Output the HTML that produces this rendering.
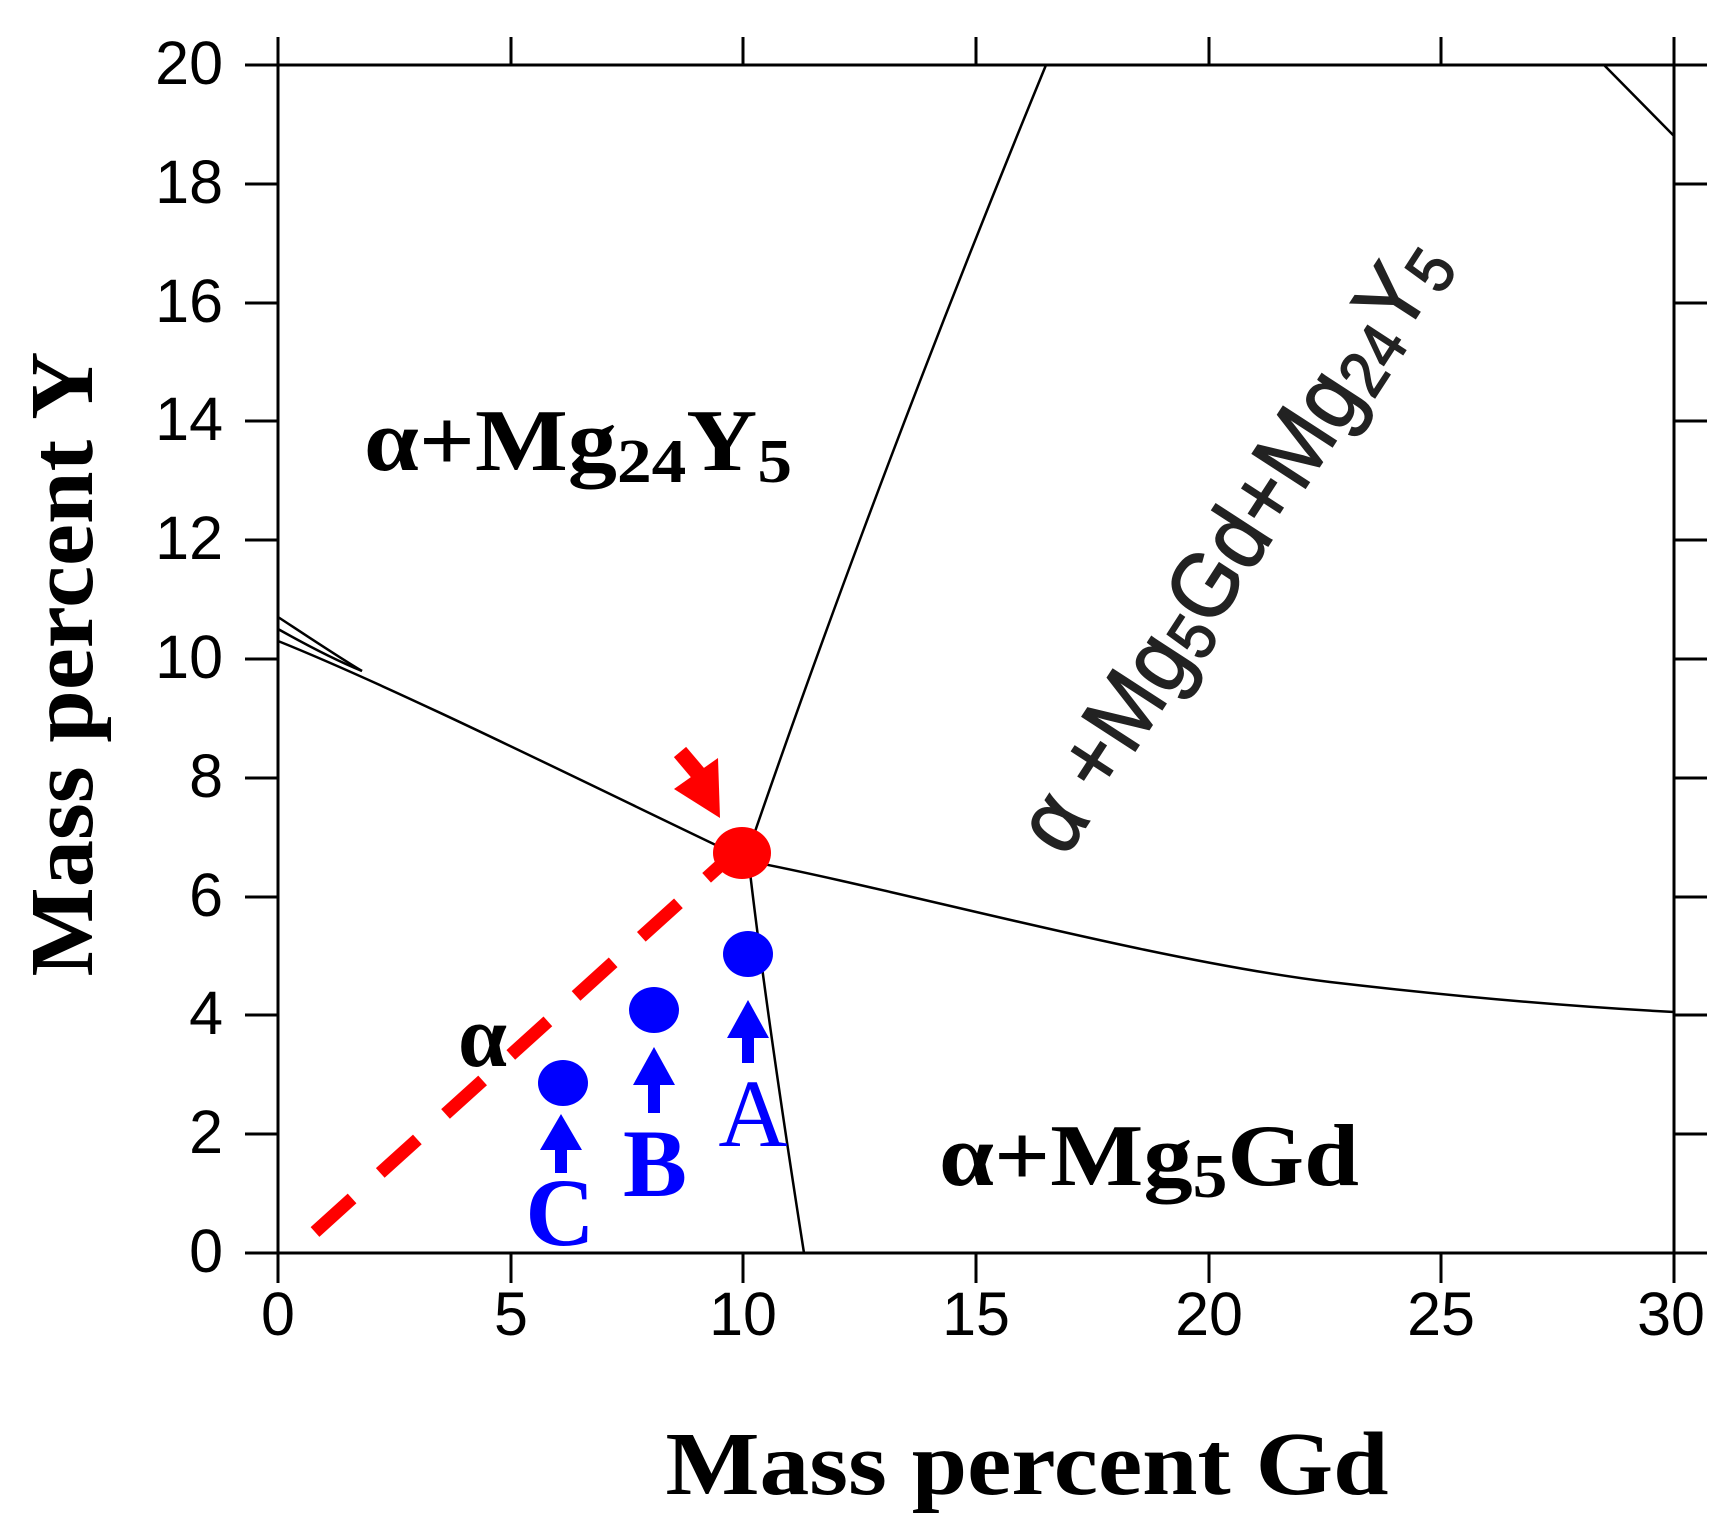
<!DOCTYPE html>
<html><head><meta charset="utf-8"><style>
html,body{margin:0;padding:0;background:#fff;}
svg{display:block;}
.t{font-family:"Liberation Sans",Arial,sans-serif;font-size:61px;fill:#000;}
.s{font-family:"Liberation Serif","Times New Roman",serif;font-weight:bold;}
</style></head><body>
<svg width="1731" height="1528" viewBox="0 0 1731 1528" xmlns="http://www.w3.org/2000/svg">
<rect width="1731" height="1528" fill="#fff"/>
<rect x="278" y="65" width="1396" height="1188" fill="none" stroke="#000" stroke-width="3"/>
<g stroke="#000" stroke-width="3">
<line x1="245" y1="1253" x2="278" y2="1253"/><line x1="245" y1="1134" x2="278" y2="1134"/>
<line x1="245" y1="1015" x2="278" y2="1015"/><line x1="245" y1="897" x2="278" y2="897"/>
<line x1="245" y1="778" x2="278" y2="778"/><line x1="245" y1="659" x2="278" y2="659"/>
<line x1="245" y1="540" x2="278" y2="540"/><line x1="245" y1="421" x2="278" y2="421"/>
<line x1="245" y1="303" x2="278" y2="303"/><line x1="245" y1="184" x2="278" y2="184"/>
<line x1="245" y1="65" x2="278" y2="65"/>
<line x1="1674" y1="1253" x2="1707" y2="1253"/><line x1="1674" y1="1134" x2="1707" y2="1134"/>
<line x1="1674" y1="1015" x2="1707" y2="1015"/><line x1="1674" y1="897" x2="1707" y2="897"/>
<line x1="1674" y1="778" x2="1707" y2="778"/><line x1="1674" y1="659" x2="1707" y2="659"/>
<line x1="1674" y1="540" x2="1707" y2="540"/><line x1="1674" y1="421" x2="1707" y2="421"/>
<line x1="1674" y1="303" x2="1707" y2="303"/><line x1="1674" y1="184" x2="1707" y2="184"/>
<line x1="1674" y1="65" x2="1707" y2="65"/>
<line x1="278" y1="1253" x2="278" y2="1283"/><line x1="511" y1="1253" x2="511" y2="1283"/>
<line x1="743" y1="1253" x2="743" y2="1283"/><line x1="976" y1="1253" x2="976" y2="1283"/>
<line x1="1209" y1="1253" x2="1209" y2="1283"/><line x1="1441" y1="1253" x2="1441" y2="1283"/>
<line x1="1674" y1="1253" x2="1674" y2="1283"/>
<line x1="278" y1="37" x2="278" y2="65"/><line x1="511" y1="37" x2="511" y2="65"/>
<line x1="743" y1="37" x2="743" y2="65"/><line x1="976" y1="37" x2="976" y2="65"/>
<line x1="1209" y1="37" x2="1209" y2="65"/><line x1="1441" y1="37" x2="1441" y2="65"/>
<line x1="1674" y1="37" x2="1674" y2="65"/>
</g>
<g class="t" text-anchor="end">
<text x="223" y="1272">0</text><text x="223" y="1153">2</text><text x="223" y="1034">4</text>
<text x="223" y="916">6</text><text x="223" y="797">8</text><text x="223" y="678">10</text>
<text x="223" y="559">12</text><text x="223" y="440">14</text><text x="223" y="322">16</text>
<text x="223" y="203">18</text><text x="223" y="84">20</text>
</g>
<g class="t" text-anchor="middle">
<text x="278" y="1335">0</text><text x="511" y="1335">5</text><text x="743" y="1335">10</text>
<text x="976" y="1335">15</text><text x="1209" y="1335">20</text><text x="1441" y="1335">25</text>
<text x="1671" y="1335">30</text>
</g>
<g fill="none" stroke="#000" stroke-width="2.5">
<path d="M278,641 C400,690 600,790 743,858"/>
<path d="M278,617 C310,638 340,658 362,671"/>
<path d="M278,629 C310,647 340,662 362,671"/>
<path d="M748,861 C900,890 1150,960 1330,982 C1450,996 1560,1006 1674,1012"/>
<path d="M748,852 C800,700 900,420 1046,65"/>
<path d="M748,855 C760,960 780,1100 804,1253"/>
<polyline points="1604,65 1674,136"/>
</g>
<line x1="315" y1="1232" x2="723" y2="863" stroke="#f00" stroke-width="13" stroke-dasharray="50,38"/>
<line x1="680" y1="752" x2="702" y2="778" stroke="#f00" stroke-width="16"/>
<polygon points="720,818 674,789 718,758" fill="#f00"/>
<ellipse cx="742" cy="853" rx="29" ry="26" fill="#f00"/>
<g fill="#0000ff">
<ellipse cx="748" cy="954" rx="25" ry="23"/>
<ellipse cx="654" cy="1010" rx="25" ry="23"/>
<ellipse cx="563" cy="1083" rx="25" ry="23"/>
<polygon points="748,1000 727,1038 769,1038"/><rect x="742" y="1036" width="12" height="27"/>
<polygon points="654,1047 633,1085 675,1085"/><rect x="648" y="1083" width="12" height="30"/>
<polygon points="561,1114 540,1150 582,1150"/><rect x="555" y="1148" width="12" height="25"/>
</g>
<text x="753" y="1146" font-family="Liberation Serif, serif" font-size="96" fill="#0000ff" text-anchor="middle">A</text>
<g class="s" fill="#0000ff" font-size="96" text-anchor="middle">
<text x="655" y="1196">B</text>
<text x="560" y="1245">C</text>
</g>
<text class="s" x="364" y="470" font-size="88" textLength="428" lengthAdjust="spacingAndGlyphs">α+Mg<tspan font-size="62" dy="12">24</tspan><tspan dy="-12">Y</tspan><tspan font-size="62" dy="12">5</tspan></text>
<text class="s" x="939" y="1185" font-size="88" textLength="420" lengthAdjust="spacingAndGlyphs">α+Mg<tspan font-size="62" dy="12">5</tspan><tspan dy="-12">Gd</tspan></text>
<text class="s" x="458" y="1066" font-size="88">α</text>
<text x="1238" y="548" transform="rotate(-57 1238 548)" text-anchor="middle" dominant-baseline="middle" font-family="Liberation Sans, Arial, sans-serif" font-size="92" fill="#222" stroke="#222" stroke-width="1.5" textLength="710" lengthAdjust="spacingAndGlyphs">α +Mg<tspan font-size="66" dy="16">5</tspan><tspan dy="-16">Gd+Mg</tspan><tspan font-size="66" dy="16">24</tspan><tspan dy="-16">Y</tspan><tspan font-size="66" dy="16">5</tspan></text>
<text class="s" x="1027" y="1494" font-size="90" text-anchor="middle" textLength="723" lengthAdjust="spacingAndGlyphs">Mass percent Gd</text>
<text class="s" x="92" y="664" font-size="90" text-anchor="middle" transform="rotate(-90 92 664)" textLength="625" lengthAdjust="spacingAndGlyphs">Mass percent Y</text>
</svg>
</body></html>
